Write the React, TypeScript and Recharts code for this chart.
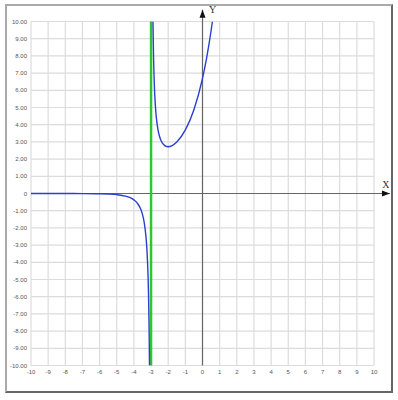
import React from 'react';
import { ComposedChart, Line, XAxis, YAxis, CartesianGrid, ReferenceLine } from 'recharts';

// left branch (x < -3)
const leftX = [-10, -9, -8, -7, -6, -5.5, -5, -4.5, -4.25, -4, -3.8, -3.6, -3.5, -3.4, -3.3, -3.25, -3.2, -3.15, -3.12, -3.1, -3.09];
const leftY = [0, -0.0004, -0.0013, -0.0046, -0.017, -0.033, -0.068, -0.149, -0.229, -0.368, -0.562, -0.915, -1.213, -1.676, -2.469, -3.115, -4.094, -5.738, -7.391, -9.048, -10];

// right branch (x > -3)
const rightX = [-2.888, -2.85, -2.8, -2.75, -2.7, -2.6, -2.5, -2.4, -2.2, -2, -1.8, -1.5, -1, -0.5, 0, 0.25, 0.5, 0.577];
const rightY = [10, 7.745, 6.107, 5.136, 4.5, 3.73, 3.297, 3.037, 2.782, 2.718, 2.767, 2.988, 3.695, 4.873, 6.695, 7.936, 9.461, 10];

const asymptoteX = -3;
const xTicks = [-10, -9, -8, -7, -6, -5, -4, -3, -2, -1, 0, 1, 2, 3, 4, 5, 6, 7, 8, 9, 10];
const yTicks = [-10, -9, -8, -7, -6, -5, -4, -3, -2, -1, 0, 1, 2, 3, 4, 5, 6, 7, 8, 9, 10];

const leftData = leftX.map((x, i) => ({ x, y: leftY[i] }));
const rightData = rightX.map((x, i) => ({ x, y: rightY[i] }));

const tickStyle = { fontSize: 6, fontFamily: 'Liberation Sans, Arial, sans-serif', fill: '#555' };

const AxisArrow = (label: string, horizontal: boolean) => (p: any) => {
  const { x1, y1, x2, y2 } = p;
  const head = horizontal
    ? `${x2},${y2} ${x2 - 8},${y2 - 3} ${x2 - 8},${y2 + 3}`
    : `${x2},${y2} ${x2 - 3},${y2 + 8} ${x2 + 3},${y2 + 8}`;
  return (
    <g>
      <line x1={x1} y1={y1} x2={x2} y2={y2} stroke="#666" strokeWidth={1.2} />
      <polygon points={head} fill="#111" />
      <text
        x={horizontal ? x2 - 4 : x2 + 10}
        y={horizontal ? y2 - 6 : y2 + 3}
        textAnchor="middle"
        fontSize={10}
        fontFamily="Liberation Serif, serif"
        fill="#333"
      >
        {label}
      </text>
    </g>
  );
};

export default function App() {
  return (
    <div style={{ position: 'absolute', left: 0, top: 0, width: 398, height: 400, background: '#fff' }}>
      <div
        style={{
          position: 'absolute',
          left: 5,
          top: 4,
          width: 388,
          height: 389,
          boxSizing: 'border-box',
          borderTop: '2px solid #aaa',
          borderLeft: '2px solid #aaa',
          borderRight: '2px solid #666',
          borderBottom: '2px solid #666',
        }}
      />
      <div style={{ position: 'absolute', left: 0, top: 0 }}>
        <ComposedChart width={398} height={400} margin={{ top: 21.5, right: 24, bottom: 14.5, left: 0 }}>
          <CartesianGrid stroke="#dcdcdc" strokeWidth={1.2} horizontalValues={yTicks} verticalValues={xTicks} />
          <XAxis
            dataKey="x"
            type="number"
            domain={[-10, 10]}
            ticks={xTicks}
            allowDataOverflow
            axisLine={false}
            tickLine={false}
            tickSize={0}
            tickMargin={4}
            height={20}
            interval={0}
            tick={tickStyle}
          />
          <YAxis
            type="number"
            domain={[-10, 10]}
            ticks={yTicks}
            allowDataOverflow
            axisLine={false}
            tickLine={false}
            tickSize={0}
            tickMargin={4}
            width={31}
            interval={0}
            tick={tickStyle}
            tickFormatter={(v: number) => (v === 0 ? '0' : v.toFixed(2))}
          />
          <ReferenceLine
            segment={[{ x: -10, y: 0 }, { x: 10.93, y: 0 }]}
            ifOverflow="visible"
            shape={AxisArrow('X', true)}
          />
          <ReferenceLine
            segment={[{ x: 0, y: -10 }, { x: 0, y: 10.68 }]}
            ifOverflow="visible"
            shape={AxisArrow('Y', false)}
          />
          <ReferenceLine x={asymptoteX} stroke="#2ec82e" strokeWidth={2.5} />
          <Line data={leftData} dataKey="y" type="monotone" stroke="#2a3fd0" strokeWidth={1.4} dot={false} isAnimationActive={false} />
          <Line data={rightData} dataKey="y" type="monotone" stroke="#2a3fd0" strokeWidth={1.4} dot={false} isAnimationActive={false} />
        </ComposedChart>
      </div>
    </div>
  );
}
